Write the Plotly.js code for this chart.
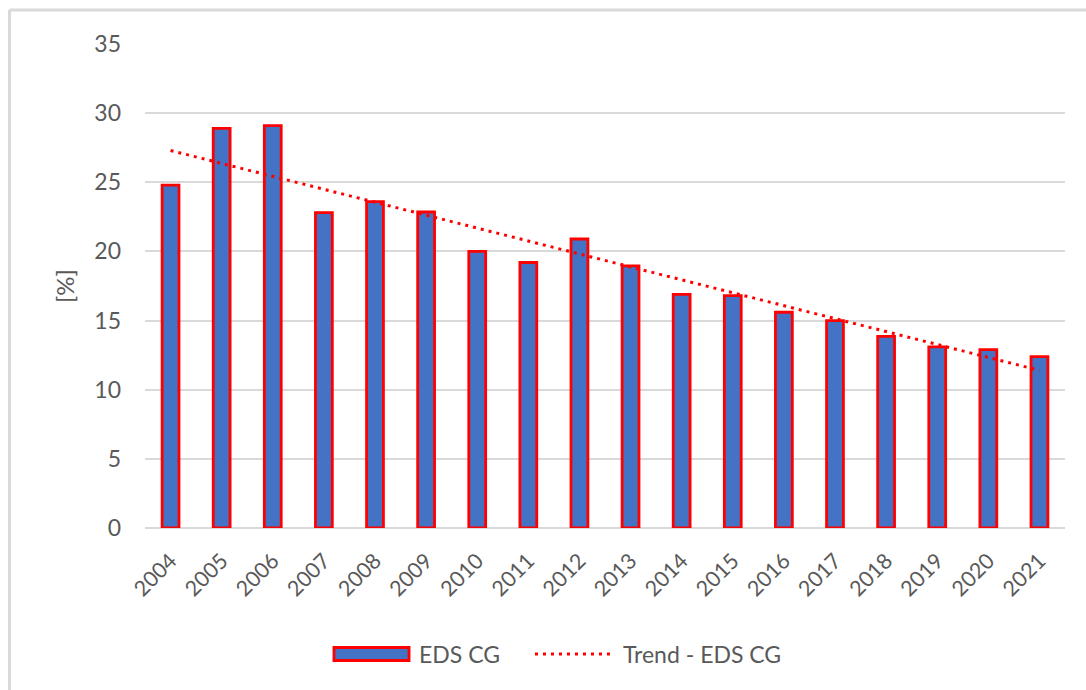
<!DOCTYPE html>
<html>
<head>
<meta charset="utf-8">
<script src="https://cdn.plot.ly/plotly-3.0.1.min.js"></script>
<style>
html,body{margin:0;padding:0;background:#fff;}
#chart{width:1086px;height:690px;}
</style>
</head>
<body>
<div id="chart"></div>
<script>
var years = ["2004","2005","2006","2007","2008","2009","2010","2011","2012","2013","2014","2015","2016","2017","2018","2019","2020","2021"];
var edsCG = [24.8,28.9,29.1,22.8,23.6,22.85,20.0,19.2,20.9,18.95,16.9,16.8,15.6,15.0,13.85,13.1,12.9,12.4];
var trendYears = ["2004","2021"];
var trendValues = [27.3,11.4];
var yTicks = [0,5,10,15,20,25,30,35];
var seriesNames = ["EDS CG", "Trend - EDS CG"];

var font = "Lato, 'Open Sans', sans-serif";
var gray = "#595959";
var red = "#FF0000";
var blue = "#4472C4";

var traces = [
  {
    type: "bar",
    name: seriesNames[0],
    x: years,
    y: edsCG,
    marker: {color: blue, line: {color: red, width: 2.8}},
    width: 0.33,
    hoverinfo: "x+y"
  },
  {
    type: "scatter",
    mode: "lines",
    name: seriesNames[1],
    x: trendYears,
    y: trendValues,
    line: {color: red, width: 3, dash: "3px,5px"},
    hoverinfo: "skip"
  }
];

// legend drawn in paper coordinates below the plot
var legY = -0.2603;
var layout = {
  width: 1086,
  height: 690,
  margin: {l: 145, r: 21, t: 44, b: 162},
  paper_bgcolor: "#ffffff",
  plot_bgcolor: "#ffffff",
  font: {family: font, color: gray, size: 22},
  showlegend: false,
  xaxis: {
    type: "category",
    tickangle: -45,
    tickfont: {family: font, size: 21.5, color: gray},
    showgrid: false,
    showline: false,
    zeroline: false,
    ticks: "",
    ticklabelstandoff: 15,
    fixedrange: true
  },
  yaxis: {
    range: [0, 35],
    tickvals: yTicks,
    ticktext: yTicks.map(String),
    tickfont: {family: font, size: 23, color: gray},
    gridcolor: "#d9d9d9",
    gridwidth: 2,
    zeroline: true,
    zerolinecolor: "#d9d9d9",
    zerolinewidth: 2,
    showline: false,
    ticks: "",
    ticklabelstandoff: 23,
    title: {text: "[%]", font: {family: font, size: 24, color: gray}, standoff: 12},
    fixedrange: true
  },
  shapes: [
    {type: "line", xref: "paper", yref: "paper", x0: -0.1473, x1: 1.1, y0: 1.0702, y1: 1.0702, line: {color: "#d9d9d9", width: 3}},
    {type: "line", xref: "paper", yref: "paper", x0: -0.1473, x1: -0.1473, y0: 1.0702, y1: -0.5, line: {color: "#d9d9d9", width: 3}},
    {type: "rect", xref: "paper", yref: "paper", x0: 0.2054, x1: 0.2870, y0: -0.2469, y1: -0.2738, fillcolor: blue, line: {color: red, width: 2.8}},
    {type: "line", xref: "paper", yref: "paper", x0: 0.4239, x1: 0.5054, y0: legY, y1: legY, line: {color: red, width: 3, dash: "3px,5px"}}
  ],
  annotations: [
    {xref: "paper", yref: "paper", x: 0.2957, y: legY, xanchor: "left", yanchor: "middle", showarrow: false, text: seriesNames[0], font: {family: font, size: 23, color: gray}},
    {xref: "paper", yref: "paper", x: 0.5175, y: legY, xanchor: "left", yanchor: "middle", showarrow: false, text: seriesNames[1], font: {family: font, size: 23, color: gray}}
  ]
};

Plotly.newPlot("chart", traces, layout, {displayModeBar: false});
</script>
</body>
</html>
